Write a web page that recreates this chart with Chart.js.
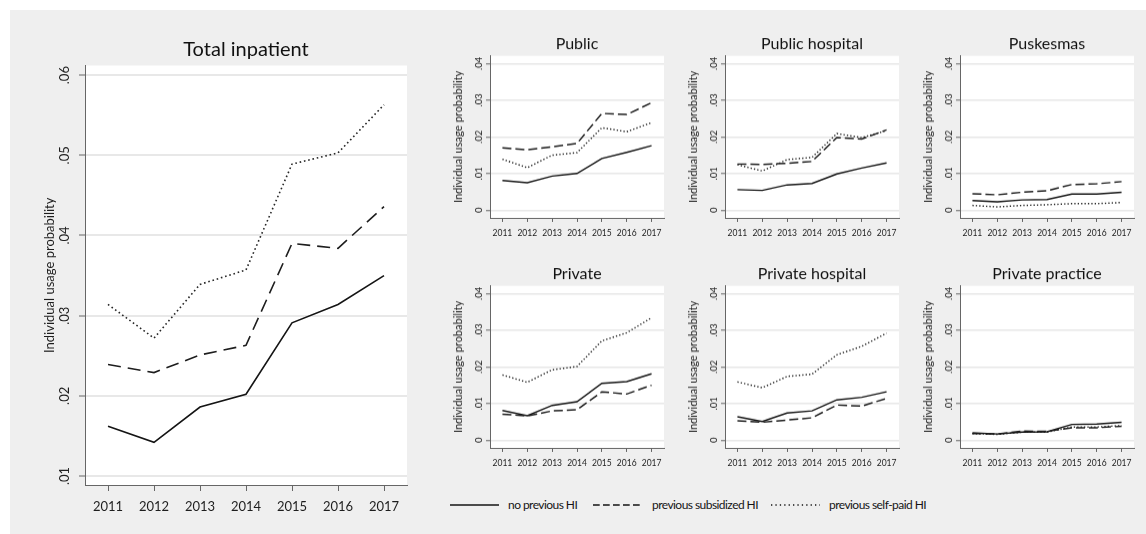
<!DOCTYPE html>
<html>
<head>
<meta charset="utf-8">
<script src="https://cdn.jsdelivr.net/npm/chart.js@4"></script>
<style>
  html, body { margin: 0; padding: 0; background: #ffffff; }
  #page { position: relative; width: 1146px; height: 534px; overflow: hidden; }
  #backdrop { position: absolute; left: 10px; top: 10px; right: 0; bottom: 0; background: #efefef; }
  canvas { position: absolute; }
  .key { position: absolute; top: 497px; height: 16px; font-family: Lato, sans-serif; font-size: 12px; letter-spacing: -0.55px; color: #151515; line-height: 16px; white-space: nowrap; }
  .key svg { position: absolute; left: 0; top: 0; }
</style>
</head>
<body>
<div id="page">
  <div id="backdrop"></div>
</div>
<script>
var years = ["2011", "2012", "2013", "2014", "2015", "2016", "2017"];
var seriesNames = ["no previous HI", "previous subsidized HI", "previous self-paid HI"];
var totalTicks = [0.01, 0.02, 0.03, 0.04, 0.05, 0.06];
var panelTicks = [0, 0.01, 0.02, 0.03, 0.04];

// Total inpatient
var totalNoHI = [0.0162, 0.0142, 0.0186, 0.0202, 0.0291, 0.0314, 0.0350];
var totalSubsidized = [0.0239, 0.0229, 0.0251, 0.0263, 0.0390, 0.0384, 0.0436];
var totalSelfPaid = [0.0314, 0.0272, 0.0339, 0.0357, 0.0489, 0.0503, 0.0563];

// Public
var publicNoHI = [0.0081, 0.0075, 0.0093, 0.0100, 0.0141, 0.0158, 0.0176];
var publicSubsidized = [0.0170, 0.0165, 0.0173, 0.0182, 0.0264, 0.0261, 0.0293];
var publicSelfPaid = [0.0139, 0.0116, 0.0150, 0.0157, 0.0225, 0.0214, 0.0239];

// Public hospital
var pubHospNoHI = [0.0056, 0.0054, 0.0069, 0.0073, 0.0099, 0.0115, 0.0129];
var pubHospSubsidized = [0.0126, 0.0125, 0.0128, 0.0133, 0.0198, 0.0194, 0.0219];
var pubHospSelfPaid = [0.0124, 0.0107, 0.0138, 0.0144, 0.0209, 0.0198, 0.0217];

// Puskesmas
var puskesmasNoHI = [0.0026, 0.0023, 0.0028, 0.0029, 0.0044, 0.0044, 0.0049];
var puskesmasSubsidized = [0.0045, 0.0042, 0.0049, 0.0053, 0.0070, 0.0072, 0.0078];
var puskesmasSelfPaid = [0.0013, 0.0009, 0.0013, 0.0015, 0.0018, 0.0018, 0.0021];

// Private
var privateNoHI = [0.0081, 0.0067, 0.0095, 0.0105, 0.0155, 0.0160, 0.0181];
var privateSubsidized = [0.0071, 0.0066, 0.0080, 0.0083, 0.0132, 0.0126, 0.0150];
var privateSelfPaid = [0.0178, 0.0158, 0.0192, 0.0201, 0.0271, 0.0293, 0.0334];

// Private hospital
var privHospNoHI = [0.0064, 0.0051, 0.0074, 0.0080, 0.0110, 0.0117, 0.0132];
var privHospSubsidized = [0.0053, 0.0049, 0.0055, 0.0061, 0.0096, 0.0093, 0.0114];
var privHospSelfPaid = [0.0159, 0.0143, 0.0174, 0.0180, 0.0233, 0.0256, 0.0292];

// Private practice
var practiceNoHI = [0.0020, 0.0017, 0.0022, 0.0023, 0.0043, 0.0044, 0.0049];
var practiceSubsidized = [0.0018, 0.0017, 0.0025, 0.0024, 0.0034, 0.0034, 0.0038];
var practiceSelfPaid = [0.0018, 0.0016, 0.0022, 0.0022, 0.0036, 0.0036, 0.0040];

var page = document.getElementById("page");

// white plot region behind grid and lines
var plotBackground = {
    id: "plotBackground",
    beforeDraw: function (chart) {
        var a = chart.chartArea;
        var ctx = chart.ctx;
        ctx.save();
        ctx.fillStyle = "#ffffff";
        ctx.fillRect(a.left, a.top, a.right - a.left, a.bottom - a.top);
        ctx.restore();
    }
};

var bigStyle = {
    yWidth: 75, xHeight: 40, rightPad: 10, titleTop: 8, titleBottom: 3.5,
    titleSize: 20, tickSize: 13, axisTitleSize: 13, axisTitlePad: 32,
    yTickLen: 6, yTickPad: 5, xTickLen: 6, xTickPad: 8,
    lineWidth: 1.6, gridWidth: 2,
    dash: [13, 7], dot: [1.6, 2.8]
};

var smallStyle = {
    yWidth: 50, xHeight: 24, rightPad: 6, titleTop: 6, titleBottom: 2.5,
    titleSize: 16, tickSize: 8.5, yTickSize: 9.5, axisTitleSize: 11, axisTitlePad: 11.4,
    yTickLen: 4, yTickPad: 0, xTickLen: 4, xTickPad: 6,
    lineWidth: 1.45, gridWidth: 1.5,
    dash: [9, 4], dot: [1.3, 2.1]
};

function formatTick(value) {
    if (value === 0) return "0";
    return value.toFixed(2).replace(/^0/, "");
}

function makeCanvas(left, top, width, height) {
    var c = document.createElement("canvas");
    c.width = width;
    c.height = height;
    c.style.left = left + "px";
    c.style.top = top + "px";
    c.style.width = width + "px";
    c.style.height = height + "px";
    page.appendChild(c);
    return c;
}

function drawPanel(title, noHI, subsidized, selfPaid, area, yMin, yMax, tickValues, s) {
    var titleHeight = s.titleTop + s.titleSize * 1.2 + s.titleBottom;
    var canvas = makeCanvas(area.left - s.yWidth, area.top - titleHeight,
        s.yWidth + area.width + s.rightPad, titleHeight + area.height + s.xHeight);

    return new Chart(canvas, {
        type: "line",
        data: {
            labels: years,
            datasets: [
                { label: seriesNames[0], data: noHI, borderColor: "#151515", borderWidth: s.lineWidth, pointRadius: 0 },
                { label: seriesNames[1], data: subsidized, borderColor: "#1e1e1e", borderWidth: s.lineWidth, borderDash: s.dash, pointRadius: 0 },
                { label: seriesNames[2], data: selfPaid, borderColor: "#262626", borderWidth: s.lineWidth, borderDash: s.dot, pointRadius: 0 }
            ]
        },
        options: {
            responsive: false,
            animation: false,
            events: [],
            layout: { padding: { left: 0, right: s.rightPad, top: 0, bottom: 0 } },
            plugins: {
                legend: { display: false },
                tooltip: { enabled: false },
                title: {
                    display: true,
                    fullSize: false,
                    text: title,
                    color: "#111111",
                    font: { family: "Lato", size: s.titleSize, weight: "normal", lineHeight: 1.2 },
                    padding: { top: s.titleTop, bottom: s.titleBottom }
                }
            },
            scales: {
                x: {
                    type: "category",
                    offset: true,
                    grid: { drawOnChartArea: false, offset: false, tickLength: s.xTickLen, tickColor: "#666666", tickWidth: 1 },
                    border: { color: "#666666", width: 1 },
                    ticks: {
                        color: "#1e1e1e",
                        font: { family: "Lato", size: s.tickSize },
                        padding: s.xTickPad,
                        maxRotation: 0,
                        autoSkip: false
                    },
                    afterFit: function (scale) { scale.height = s.xHeight; }
                },
                y: {
                    min: yMin,
                    max: yMax,
                    afterBuildTicks: function (scale) {
                        scale.ticks = tickValues.map(function (v) { return { value: v }; });
                    },
                    grid: { color: "#e8e8e8", lineWidth: s.gridWidth, tickLength: s.yTickLen, tickColor: "#666666", tickWidth: 1 },
                    border: { color: "#666666", width: 1 },
                    ticks: {
                        callback: formatTick,
                        color: "#1e1e1e",
                        font: { family: "Lato", size: s.yTickSize || s.tickSize },
                        minRotation: 90,
                        maxRotation: 90,
                        crossAlign: "center",
                        padding: s.yTickPad
                    },
                    title: {
                        display: true,
                        text: "Individual usage probability",
                        color: "#1e1e1e",
                        font: { family: "Lato", size: s.axisTitleSize, lineHeight: 1.2 },
                        padding: { top: s.axisTitlePad, bottom: 0 }
                    },
                    afterFit: function (scale) { scale.width = s.yWidth; }
                }
            }
        },
        plugins: [plotBackground]
    });
}

function drawKey(left, name, dash, lineLen) {
    var div = document.createElement("div");
    div.className = "key";
    div.style.left = left + "px";
    var svg = '<svg width="' + lineLen + '" height="16"><line x1="0" y1="8" x2="' + lineLen +
        '" y2="8" stroke="#151515" stroke-width="1.5"' + (dash ? ' stroke-dasharray="' + dash + '"' : "") + '/></svg>';
    div.innerHTML = svg + '<span style="position:absolute; left:' + (lineLen + 9) + 'px;">' + name + '</span>';
    page.appendChild(div);
}

function init() {
    drawPanel("Total inpatient", totalNoHI, totalSubsidized, totalSelfPaid,
        { left: 85, top: 65, width: 322, height: 420 }, 0.00888, 0.0612, totalTicks, bigStyle);

    var pMin = -0.0021, pMax = 0.0421;
    drawPanel("Public", publicNoHI, publicSubsidized, publicSelfPaid,
        { left: 490, top: 56, width: 174, height: 162 }, pMin, pMax, panelTicks, smallStyle);
    drawPanel("Public hospital", pubHospNoHI, pubHospSubsidized, pubHospSelfPaid,
        { left: 725, top: 56, width: 174, height: 162 }, pMin, pMax, panelTicks, smallStyle);
    drawPanel("Puskesmas", puskesmasNoHI, puskesmasSubsidized, puskesmasSelfPaid,
        { left: 960, top: 56, width: 174, height: 162 }, pMin, pMax, panelTicks, smallStyle);
    drawPanel("Private", privateNoHI, privateSubsidized, privateSelfPaid,
        { left: 490, top: 286, width: 174, height: 162 }, pMin, pMax, panelTicks, smallStyle);
    drawPanel("Private hospital", privHospNoHI, privHospSubsidized, privHospSelfPaid,
        { left: 725, top: 286, width: 174, height: 162 }, pMin, pMax, panelTicks, smallStyle);
    drawPanel("Private practice", practiceNoHI, practiceSubsidized, practiceSelfPaid,
        { left: 960, top: 286, width: 174, height: 162 }, pMin, pMax, panelTicks, smallStyle);

    drawKey(450, seriesNames[0], null, 49);
    drawKey(593, seriesNames[1], "6.7 3.3", 50);
    drawKey(771, seriesNames[2], "1.3 3.1", 49);
}

init();
</script>
</body>
</html>
